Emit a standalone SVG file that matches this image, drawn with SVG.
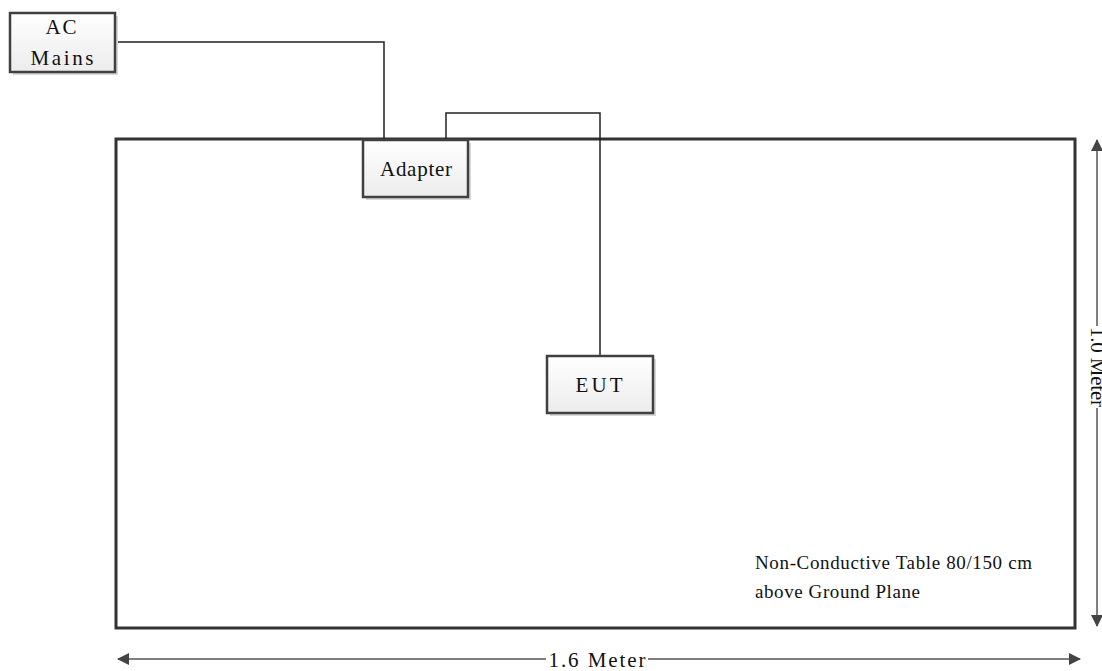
<svg xmlns="http://www.w3.org/2000/svg" width="1102" height="671" viewBox="0 0 1102 671">
<style>
.box{fill:url(#g);stroke:#404040;stroke-width:2.5}
.shadow{fill:#d8d8d8}
.t{font-family:"Liberation Serif",serif;font-size:21px;fill:#111;text-anchor:middle}
.note{font-family:"Liberation Serif",serif;font-size:19px;fill:#111}
.wire{fill:none;stroke:#222;stroke-width:1.5}
.dim{fill:none;stroke:#555;stroke-width:1.5}
</style>
<defs>
<linearGradient id="g" x1="0" y1="0" x2="0" y2="1"><stop offset="0" stop-color="#ffffff"/><stop offset="1" stop-color="#ececec"/></linearGradient>
<marker id="ah" markerWidth="12" markerHeight="12" refX="11" refY="6" orient="auto-start-reverse" markerUnits="userSpaceOnUse"><path d="M0,0 L12,6 L0,12 Z" fill="#444"/></marker>
</defs>
<g id="table"><rect x="116" y="139" width="959" height="489" fill="#fff" stroke="#333" stroke-width="3"/></g>
<g id="connectors">
<path class="wire" d="M115,42 H384 V139"/>
<path class="wire" d="M446,139 V113 H600 V356"/>
</g>
<g id="ac-mains">
<rect class="shadow" x="13" y="16" width="105" height="59"/>
<rect class="box" x="10" y="13" width="105" height="59"/>
<text class="t" x="62" y="34" letter-spacing="2">AC</text>
<text class="t" x="62" y="65" textLength="63">Mains</text>
</g>
<g id="adapter">
<rect class="shadow" x="366" y="143" width="105" height="57"/>
<rect class="box" x="363" y="140" width="105" height="57"/>
<text class="t" x="416" y="176" textLength="72">Adapter</text>
</g>
<g id="eut">
<rect class="shadow" x="550" y="359" width="106" height="57"/>
<rect class="box" x="547" y="356" width="106" height="57"/>
<text class="t" x="599" y="392" textLength="47">EUT</text>
</g>
<g id="note">
<text class="note" x="755" y="569" textLength="277">Non-Conductive Table 80/150 cm</text>
<text class="note" x="755" y="598" textLength="165">above Ground Plane</text>
</g>
<g id="dimensions">
<path class="dim" d="M546,659 H118" marker-end="url(#ah)"/>
<path class="dim" d="M648,659 H1080" marker-end="url(#ah)"/>
<text class="t" x="597" y="667" textLength="97">1.6 Meter</text>
<path class="dim" d="M1097,326 V140" marker-end="url(#ah)"/>
<path class="dim" d="M1097,408 V626" marker-end="url(#ah)"/>
<text class="t" transform="translate(1091,367) rotate(90)" x="0" y="0" textLength="80">1.0 Meter</text>
</g>
</svg>
